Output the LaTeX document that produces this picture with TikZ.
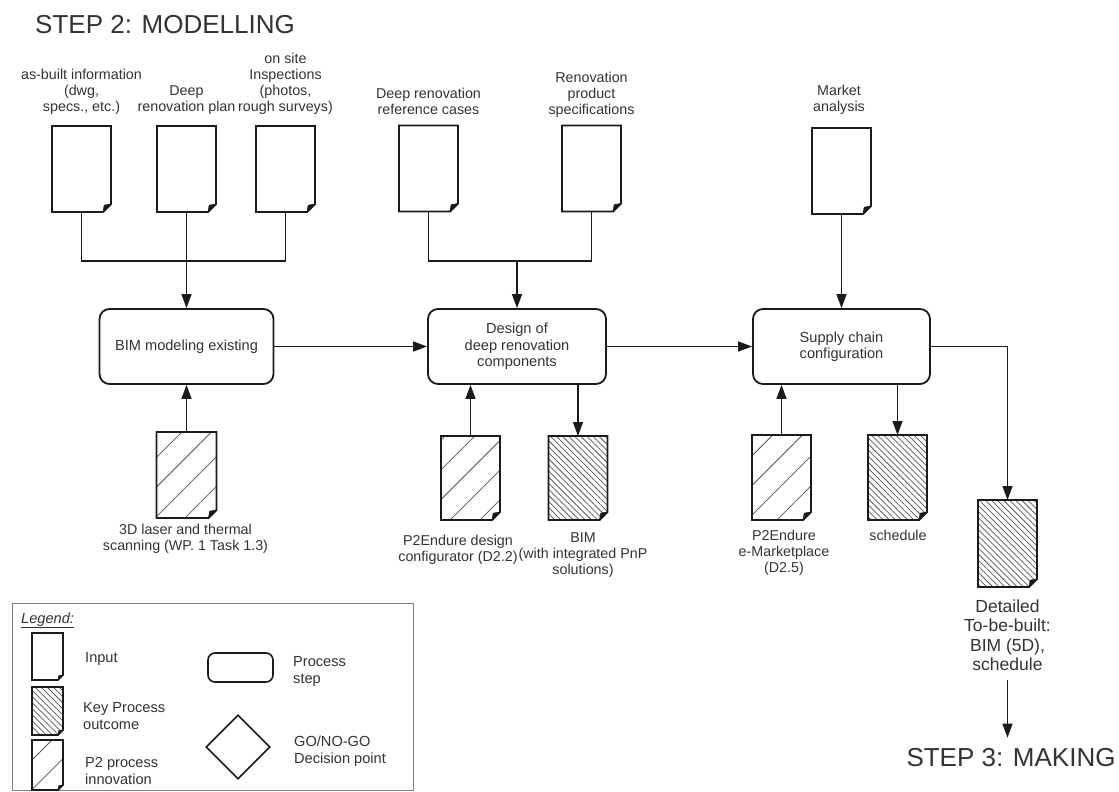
\documentclass[tikz,border=0pt]{standalone}
\usepackage{fontspec}
\setmainfont{Liberation Sans}
\usetikzlibrary{arrows.meta,patterns.meta,shapes.geometric,calc}
\definecolor{txt}{HTML}{333333}
\definecolor{ln}{HTML}{1A1A1A}
\definecolor{hatch}{HTML}{555555}
\definecolor{legframe}{HTML}{808080}
\newcommand\lblfont{\fontsize{14.3}{16}\selectfont}
\newcommand\boxfont{\fontsize{14.6}{16.5}\selectfont}
\newcommand\legfont{\fontsize{14.6}{17}\selectfont}
\newcommand\bigfont{\fontsize{26}{30}\selectfont}
\newcommand\detfont{\fontsize{17.5}{19.5}\selectfont}
% name, cx, cy, w, h, fold, fill style, line width
\newcommand\mkdoc[8]{%
  \node[docbox, minimum width=#4pt, minimum height=#5pt] (#1) at (#2,#3) {};
  \path[#7] (#1.north west) -- (#1.north east) -- ([yshift=#6pt]#1.south east)
     -- ([xshift=-#6pt]#1.south east) -- (#1.south west) -- cycle;
  \draw[docline, line width=#8pt] (#1.north west) -- (#1.north east) -- ([yshift=#6pt]#1.south east)
     -- ([xshift=-#6pt]#1.south east) -- (#1.south west) -- cycle;
  \filldraw[ln, line width=0.6pt, line join=round] ([xshift=-#6pt]#1.south east) -- ([yshift=#6pt]#1.south east)
     -- ([xshift=-.85*#6pt,yshift=.85*#6pt]#1.south east) -- cycle;
}
\begin{document}
\begin{tikzpicture}[x=1pt,y=-1pt,
  docbox/.style={inner sep=0pt, outer sep=0pt, draw=none},
  docline/.style={draw=ln, line join=miter},
  plainfill/.style={fill=white},
  keyfill/.style={pattern={Lines[angle=-45,distance=4.3pt,line width=0.75pt]}, pattern color=hatch},
  p2fill/.style={pattern={Lines[angle=45,distance=21pt,line width=0.75pt]}, pattern color=hatch},
  procbox/.style={draw=ln, line width=1.8pt, rounded corners=10pt, minimum height=75pt,
     align=center, font=\boxfont, text=txt, fill=white, inner sep=2pt},
  lbl/.style={font=\lblfont, text=txt, align=center, inner sep=0pt},
  leg/.style={font=\legfont, text=txt, align=left, inner sep=0pt},
  conn/.style={draw=ln, line width=1.3pt},
  arr/.style={conn, -{Triangle[length=14pt,width=10pt]}}
]
\useasboundingbox (0,0) rectangle (1119,792);
\fill[white] (0,0) rectangle (1119,792);

% headings
\node[anchor=base west, font=\bigfont, text=txt, inner sep=0pt] (step2) at (35,34) {STEP 2: MODELLING};
\node[anchor=base, font=\bigfont, text=txt, inner sep=0pt] (step3) at (1011,766) {STEP 3: MAKING};

% process steps
\node[procbox, minimum width=174pt] (box1) at (186.5,346.5) {BIM modeling existing};
\node[procbox, minimum width=178pt] (box2) at (517,346.5) {Design of\\deep renovation\\components};
\node[procbox, minimum width=177pt] (box3) at (841.5,346.5) {Supply chain\\configuration};

% input documents
\mkdoc{d1}{81.5}{169}{59}{86}{8}{plainfill}{1.8}
\mkdoc{d2}{186.5}{169}{59}{86}{8}{plainfill}{1.8}
\mkdoc{d3}{285.5}{169}{59}{86}{8}{plainfill}{1.8}
\mkdoc{d4}{428.5}{168.5}{59}{86}{8}{plainfill}{1.8}
\mkdoc{d5}{591.5}{168.5}{59}{86}{8}{plainfill}{1.8}
\mkdoc{d6}{841.5}{171}{59}{86}{8}{plainfill}{1.8}

% input labels
\node[lbl, anchor=south] (l1) at (81.5,116.8) {as-built information\\(dwg,\\specs., etc.)\strut};
\node[lbl, anchor=south] (l2) at (186.5,116.8) {Deep\\renovation plan\strut};
\node[lbl, anchor=south] (l3) at (285.5,116.8) {on site\\Inspections\\(photos,\\rough surveys)\strut};
\node[lbl, anchor=south] (l4) at (428.5,119.8) {Deep renovation\\reference cases\strut};
\node[lbl, anchor=south] (l5) at (591.5,119.8) {Renovation\\product\\specifications\strut};
\node[lbl, anchor=south] (l6) at (839,116.8) {Market\\analysis\strut};

% input connectors
\coordinate (j1) at (186.5,261);
\coordinate (j2) at (517,261);
\draw[conn] (d1.south) |- (j1) -| (d3.south);
\draw[arr] (d2.south) -- (box1.north);
\draw[conn] (d4.south) |- (j2) -| (d5.south);
\draw[arr] (j2) -- (box2.north);
\draw[arr] (d6.south) -- (box3.north);

% flow between steps
\draw[arr] (box1.east) -- (box2.west);
\draw[arr] (box2.east) -- (box3.west);

% lower documents
\mkdoc{d8}{186.5}{475}{60}{86}{8}{p2fill}{1.8}
\mkdoc{d9}{470.5}{478}{59}{84}{8}{p2fill}{1.8}
\mkdoc{d10}{578}{478}{59}{84}{8}{keyfill}{1.8}
\mkdoc{d11}{781.5}{477.5}{59}{85}{8}{p2fill}{1.8}
\mkdoc{d12}{897.5}{477.5}{59}{85}{8}{keyfill}{1.8}
\mkdoc{d7}{1007.5}{543.5}{59}{87}{8}{keyfill}{1.8}

\draw[arr] (d8.north) -- (d8.north |- box1.south);
\draw[arr] (d9.north) -- (d9.north |- box2.south);
\draw[arr] (d10.north |- box2.south) -- (d10.north);
\draw[arr] (d11.north) -- (d11.north |- box3.south);
\draw[arr] (d12.north |- box3.south) -- (d12.north);
\draw[arr] (box3.east) -| (d7.north);

% lower labels
\node[lbl, anchor=north] (l8) at (185.5,522.8) {\strut 3D laser and thermal\\scanning (WP. 1 Task 1.3)};
\node[lbl, anchor=north] (l9) at (458,533.8) {\strut P2Endure design\\configurator (D2.2)};
\node[lbl, anchor=north] (l10) at (583,530.8) {\strut BIM\\(with integrated PnP\\solutions)};
\node[lbl, anchor=north] (l11) at (784,528.8) {\strut P2Endure\\e-Marketplace\\(D2.5)};
\node[lbl, anchor=north] (l12) at (898,528.8) {\strut schedule};
\node[lbl, font=\detfont, anchor=north] (l7) at (1007.5,598.4) {\strut Detailed\\To-be-built:\\BIM (5D),\\schedule};

\draw[arr, shorten <=9pt, shorten >=10pt] (l7.south) -- (l7.south |- step3.north);

% legend
\node[draw=legframe, line width=0.9pt, minimum width=401pt, minimum height=187pt, inner sep=0pt] (legend) at (212.5,696.5) {};
\node[leg, anchor=base west] (legt) at (21,623) {\underline{\textit{Legend:}}};
\mkdoc{g1}{47.5}{656.5}{31}{47}{5}{plainfill}{1.6}
\mkdoc{g2}{47.5}{711}{31}{48}{5}{keyfill}{1.6}
\mkdoc{g3}{47.5}{765}{31}{50}{5}{p2fill}{1.6}
\node[leg, anchor=base west] (gl1) at (85,662) {Input};
\node[leg, anchor=north west] (gl2) at (83,700.1) {\strut Key Process\\outcome};
\node[leg, anchor=north west] (gl3) at (85,755.1) {\strut P2 process\\innovation};
\node[draw=ln, line width=1.6pt, rounded corners=7pt, minimum width=65pt, minimum height=29pt, inner sep=0pt] (gbox) at (240.5,667.5) {};
\node[leg, anchor=north west] (gl4) at (293,654.1) {\strut Process\\step};
\node[draw=ln, line width=1.6pt, diamond, minimum width=64pt, minimum height=64pt, inner sep=0pt] (gdia) at (238,747) {};
\node[leg, anchor=north west] (gl5) at (294,734.1) {\strut GO/NO-GO\\Decision point};
\end{tikzpicture}
\end{document}
